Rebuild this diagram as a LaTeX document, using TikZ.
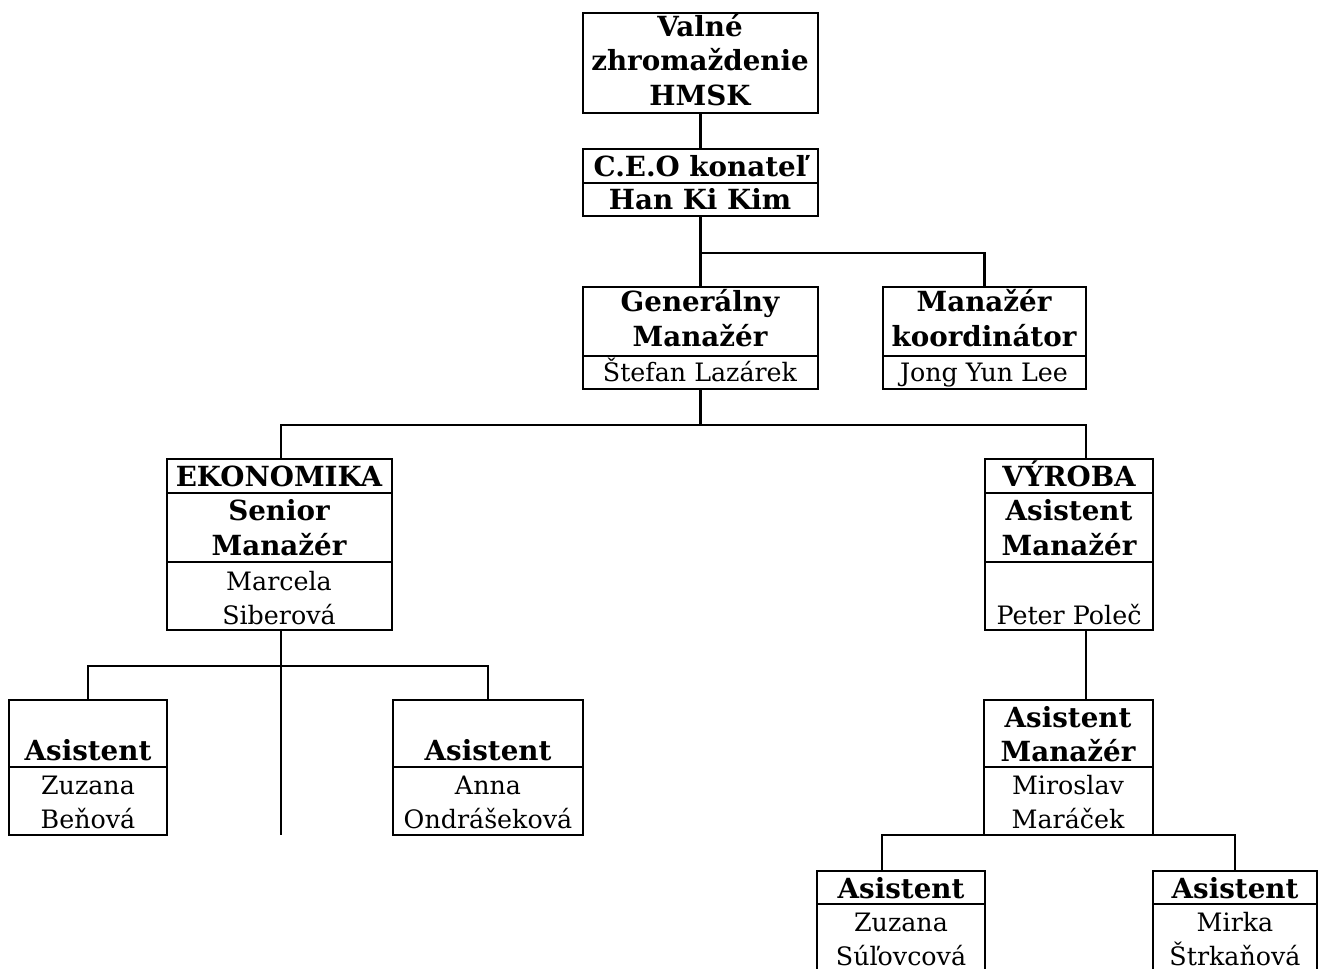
\documentclass[tikz,border=0pt]{standalone}
\usepackage{fontspec}
\setmainfont{DejaVu Serif}
\begin{document}
\begin{tikzpicture}[x=0.75pt,y=-0.75pt,
  box/.style={draw,line width=1.8pt,inner sep=0pt,outer sep=0pt},
  ln/.style={line width=1.8pt},
  bt/.style={font=\fontsize{20.8}{25}\selectfont\bfseries,anchor=base,inner sep=0pt},
  rt/.style={font=\fontsize{19}{25}\selectfont,anchor=base,inner sep=0pt}]
\useasboundingbox (0,0) rectangle (1324,969);
\newcommand\orgbox[5]{\node[box,minimum width={(#4-#2)*0.75pt},minimum height={(#5-#3)*0.75pt}] (#1) at ({(#2+#4)/2},{(#3+#5)/2}) {};}
\newcommand\divline[2]{\draw[ln] (#1.west |- 0,#2) -- (#1.east |- 0,#2);}
% boxes
\orgbox{vz}{583}{13}{818}{113}
\orgbox{ceo}{583}{149}{818}{216}
\orgbox{gm}{583}{287}{818}{389}
\orgbox{mk}{883}{287}{1086}{389}
\orgbox{ek}{167}{459}{392}{630}
\orgbox{vy}{985}{459}{1153}{630}
\orgbox{aa}{9}{700}{167}{835}
\orgbox{ab}{393}{700}{583}{835}
\orgbox{am}{984}{700}{1153}{835}
\orgbox{sa}{817}{871}{985}{975}
\orgbox{sb}{1153}{871}{1317}{975}
% dividers
\divline{ceo}{183}
\divline{gm}{356}
\divline{mk}{356}
\divline{ek}{493}
\divline{ek}{562}
\divline{vy}{493}
\divline{vy}{562}
\divline{aa}{767}
\divline{ab}{767}
\divline{am}{767}
\divline{sa}{904}
\divline{sb}{904}
% texts
\node[bt] (t1) at (700,37) {Valné};
\node[bt] (t2) at (700,71) {zhromaždenie};
\node[bt] (t3) at (700,106) {HMSK};
\node[bt] (t4) at (700,177) {C.E.O konateľ};
\node[bt] (t5) at (700,210) {Han Ki Kim};
\node[bt] (t6) at (700,312) {Generálny};
\node[bt] (t7) at (700,347) {Manažér};
\node[rt] (t8) at (700,382) {Štefan Lazárek};
\node[bt] (t9) at (984,312) {Manažér};
\node[bt] (t10) at (984,347) {koordinátor};
\node[rt] (t11) at (984,382) {Jong Yun Lee};
\node[bt] (t12) at (279,487) {EKONOMIKA};
\node[bt] (t13) at (279,521) {Senior};
\node[bt] (t14) at (279,555) {Manažér};
\node[rt] (t15) at (279,590) {Marcela};
\node[rt] (t16) at (279,624) {Siberová};
\node[bt] (t17) at (1069,487) {VÝROBA};
\node[bt] (t18) at (1069,521) {Asistent};
\node[bt] (t19) at (1069,555) {Manažér};
\node[rt] (t20) at (1069,624) {Peter Poleč};
\node[bt] (t21) at (88,760) {Asistent};
\node[rt] (t22) at (88,794) {Zuzana};
\node[rt] (t23) at (88,828) {Beňová};
\node[bt] (t24) at (488,760) {Asistent};
\node[rt] (t25) at (488,794) {Anna};
\node[rt] (t26) at (488,828) {Ondrášeková};
\node[bt] (t27) at (1068,727) {Asistent};
\node[bt] (t28) at (1068,761) {Manažér};
\node[rt] (t29) at (1068,794) {Miroslav};
\node[rt] (t30) at (1068,828) {Maráček};
\node[bt] (t31) at (901,898) {Asistent};
\node[rt] (t32) at (901,931) {Zuzana};
\node[rt] (t33) at (901,965) {Súľovcová};
\node[bt] (t34) at (1235,898) {Asistent};
\node[rt] (t35) at (1235,931) {Mirka};
\node[rt] (t36) at (1235,965) {Štrkaňová};
% connector helper coordinates
\coordinate (ekx) at (281,0);
\coordinate (vyx) at (1086,0);
\coordinate (sax) at (882,0);
\coordinate (jcy) at (0,253);
\coordinate (jgy) at (0,425);
\coordinate (je) at (281,666);
\coordinate (ekend) at (281,835);
% connectors
\draw[ln] (vz.south) -- (ceo.north);
\draw[ln] (ceo.south) -- (gm.north);
\draw[ln] (ceo.south |- jcy) -| (mk.north);
\draw[ln] (gm.south) -- (gm.south |- jgy) coordinate (jg);
\draw[ln] (ek.north -| ekx) |- (jg) -| (vy.north -| vyx);
\draw[ln] (ek.south -| ekx) -- (ekend);
\draw[ln] (aa.north) |- (je) -| (ab.north);
\draw[ln] (vy.south -| vyx) -- (am.north -| vyx);
\draw[ln] (sa.north -| sax) |- (am.south) -| (sb.north);
\end{tikzpicture}
\end{document}
